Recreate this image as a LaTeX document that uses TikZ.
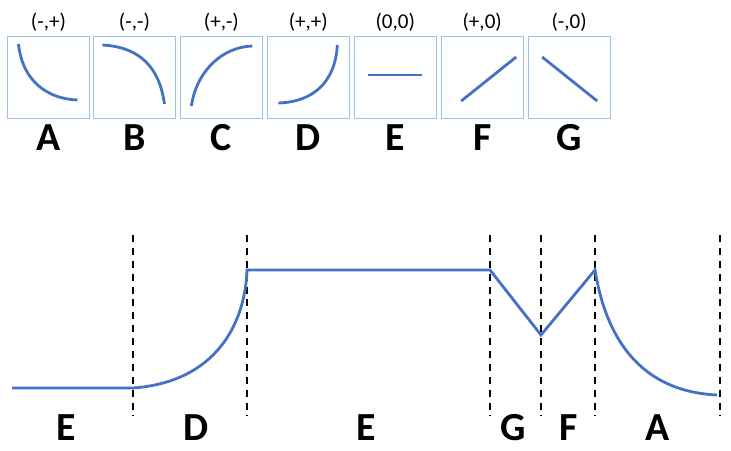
\documentclass[tikz,border=0pt]{standalone}
\usepackage{fontspec}
\setmainfont{Carlito}
\usetikzlibrary{positioning,calc}
\definecolor{curveblue}{HTML}{4472C4}
\definecolor{boxblue}{HTML}{9DC3E6}
\tikzset{icon/.style={rectangle, draw=boxblue, line width=0.8pt, minimum width=2.46cm, minimum height=2.46cm, inner sep=0pt},
   sign/.style={font=\fontsize{18}{20}\selectfont},
   letter/.style={font=\fontsize{34}{36}\selectfont\bfseries},
   curve/.style={curveblue, line width=2.4pt},
   cut/.style={dashed, line width=1.1pt, dash pattern=on 6pt off 5pt}}
\begin{document}
\begin{tikzpicture}[x=0.03cm, y=-0.03cm]
   \useasboundingbox (0,0) rectangle (731,451);
   % Icon boxes
   \node[icon] (boxA) at (48.5,77) {};
   \node[icon, right=0.09cm of boxA] (boxB) {};
   \node[icon, right=0.12cm of boxB] (boxC) {};
   \node[icon, right=0.12cm of boxC] (boxD) {};
   \node[icon, right=0.12cm of boxD] (boxE) {};
   \node[icon, right=0.12cm of boxE] (boxF) {};
   \node[icon, right=0.12cm of boxF] (boxG) {};
   % Signs and letters
   \foreach \n/\s in {A/{(-,+)}, B/{(-,-)}, C/{(+,-)}, D/{(+,+)}, E/{(0,0)}, F/{(+,0)}, G/{(-,0)}} {
      \node[sign, above=0cm of box\n] (sign\n) {\s};
      \node[letter, below=0.05cm of box\n] (let\n) {\n};
   }
   % Icon curves
   \draw[curve] ($(boxA)+(-30,-33)$) .. controls ($(boxA)+(-26,5)$) and ($(boxA)+(0,22)$) .. ($(boxA)+(29,23)$);
   \draw[curve] ($(boxB)+(-32,-32)$) .. controls ($(boxB)+(5,-30)$) and ($(boxB)+(25,-10)$) .. ($(boxB)+(30,27)$);
   \draw[curve] ($(boxC)+(-30,29)$) .. controls ($(boxC)+(-25,-5)$) and ($(boxC)+(0,-30)$) .. ($(boxC)+(31,-31)$);
   \draw[curve] ($(boxD)+(-30,26)$) .. controls ($(boxD)+(5,25)$) and ($(boxD)+(27,5)$) .. ($(boxD)+(29,-32)$);
   \draw[curve] ($(boxE)+(-27,-2)$) -- ($(boxE)+(27,-2)$);
   \draw[curve] ($(boxF)+(-21,24)$) -- ($(boxF)+(34,-20)$);
   \draw[curve] ($(boxG)+(-27,-20)$) -- ($(boxG)+(28,24)$);
   % Cuts
   \foreach \x [count=\i] in {133,247,490,541,595,720} {
      \coordinate (top\i) at (\x,235);
      \coordinate (bot\i) at (\x,416);
      \draw[cut] (top\i) -- (bot\i);
   }
   % Profile
   \coordinate (p0) at (12,388);
   \coordinate (p1) at (133,388);
   \coordinate (p2) at (247,270);
   \coordinate (p3) at (490,270);
   \coordinate (p4) at (541,335);
   \coordinate (p5) at (595,270);
   \coordinate (p6) at (717,395);
   \draw[curve] (p0) -- (p1) .. controls (215,382) and (245,325) .. (p2) -- (p3) -- (p4) -- (p5)
      .. controls (612,375) and (675,393) .. (p6);
   % Segment letters
   \node[letter] (segE1) at (66,428) {E};
   \node[letter] (segD) at (196,428) {D};
   \node[letter] (segE2) at (366,428) {E};
   \node[letter] (segG) at (513,428) {G};
   \node[letter] (segF) at (569,428) {F};
   \node[letter] (segA) at (658,428) {A};
\end{tikzpicture}
\end{document}
